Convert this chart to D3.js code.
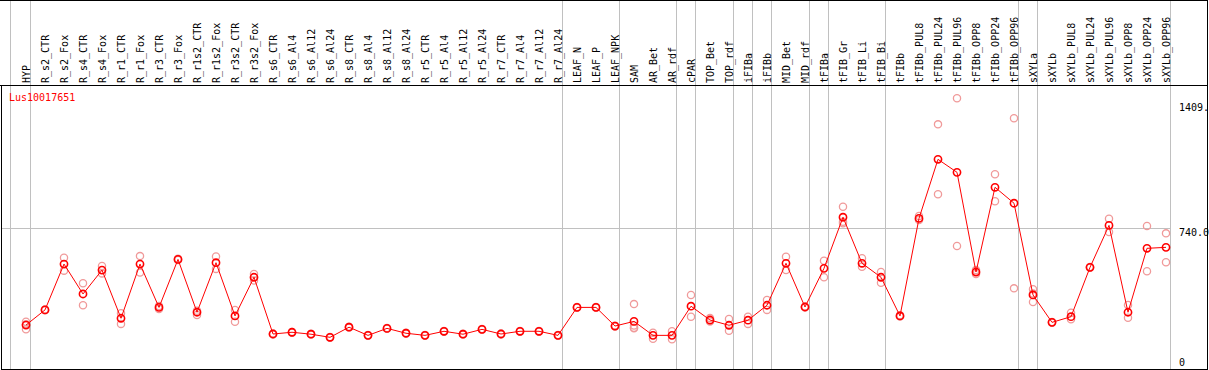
<!doctype html>
<html>
<head>
  <meta charset="utf-8">
  <title>Lus10017651 expression</title>
  <script src="https://cdnjs.cloudflare.com/ajax/libs/d3/7.8.5/d3.min.js"></script>
  <style>
    html, body {
      margin: 0;
      padding: 0;
      background: #fff;
    }
    svg {
      display: block;
      font-family: "DejaVu Sans Mono", monospace;
      font-size: 10px;
    }
  </style>
</head>
<body>
  <div id="my-svg-chart"></div>
  <script>
    // sample names, in the order of the columns
    const samples = [
      'HYP', 'R_s2_CTR', 'R_s2_Fox', 'R_s4_CTR', 'R_s4_Fox', 'R_r1_CTR', 'R_r1_Fox',
      'R_r3_CTR', 'R_r3_Fox', 'R_r1s2_CTR', 'R_r1s2_Fox', 'R_r3s2_CTR', 'R_r3s2_Fox',
      'R_s6_CTR', 'R_s6_Al4', 'R_s6_Al12', 'R_s6_Al24', 'R_s8_CTR', 'R_s8_Al4',
      'R_s8_Al12', 'R_s8_Al24', 'R_r5_CTR', 'R_r5_Al4', 'R_r5_Al12', 'R_r5_Al24',
      'R_r7_CTR', 'R_r7_Al4', 'R_r7_Al12', 'R_r7_Al24', 'LEAF_N', 'LEAF_P', 'LEAF_NPK',
      'SAM', 'AR_Bet', 'AR_rdf', 'cPAR', 'TOP_Bet', 'TOP_rdf', 'iFIBa', 'iFIBb',
      'MID_Bet', 'MID_rdf', 'tFIBa', 'tFIB_Gr', 'tFIB_Li', 'tFIB_Bi', 'tFIBb',
      'tFIBb_PUL8', 'tFIBb_PUL24', 'tFIBb_PUL96', 'tFIBb_OPP8', 'tFIBb_OPP24', 'tFIBb_OPP96',
      'sXYLa', 'sXYLb', 'sXYLb_PUL8', 'sXYLb_PUL24', 'sXYLb_PUL96',
      'sXYLb_OPP8', 'sXYLb_OPP24', 'sXYLb_OPP96'
    ];

    // mean expression per sample
    const means = [
      242, 320, 556, 402, 525, 277, 556, 333, 580, 308, 563, 289, 488,
      196, 205, 195, 179, 231, 189, 225, 200, 189, 210, 195, 220,
      196, 210, 210, 189, 333, 333, 237,
      261, 189, 189, 339, 268, 241, 267, 344,
      560, 335, 534, 797, 560, 488, 289,
      791, 1095, 1028, 515, 951, 869,
      397, 256, 285, 539, 755, 308, 637, 642
    ];

    // replicate values per sample
    const reps = [
      [259, 246, 220], [318, 322], [589, 522], [457, 344], [546, 508], [303, 248], [597, 512],
      [340, 325], [583, 577], [316, 294], [595, 531], [320, 259], [505, 471],
      [198, 194], [207, 203], [197, 193], [181, 177], [233, 229], [191, 187],
      [227, 223], [202, 198], [191, 187], [212, 208], [197, 193], [222, 218],
      [198, 194], [212, 208], [212, 208], [191, 187], [335, 331], [335, 331], [239, 235],
      [350, 240, 228, 226], [203, 172], [210, 169], [397, 285], [278, 261], [273, 213],
      [285, 248], [371, 320],
      [594, 525], [337, 333], [573, 488], [851, 766, 774], [586, 542], [515, 460], [292, 286],
      [803, 783], [1275, 915], [1409, 649], [525, 505], [1018, 879], [1306, 431],
      [426, 404, 361], [258, 254], [306, 272], [541, 537], [789, 721],
      [345, 280], [752, 519], [714, 565]
    ];

    // columns followed by a grey separator
    const groupEnds = [0, 28, 31, 34, 35, 37, 38, 39, 41, 42, 45, 52, 53, 60];

    const yTicks = [0, 740, 1409];
    const yTickLabels = ['0', '740.0', '1409.'];
    const gridValue = 740;
    const geneName = 'Lus10017651';

    const width = 1209, height = 370;
    const headerBottom = 85, plotBottom = 369, plotRight = 1207;

    const svg = d3.select('#my-svg-chart')
      .append('svg')
      .attr('width', width)
      .attr('height', height);

    const x = d3.scaleLinear()
      .domain([0, samples.length - 1])
      .range([26, 1166]);

    const y = d3.scaleLinear()
      .domain([0, 1409])
      .range([372.1, 98.3]);

    const sepX = i => Math.round(x(i) + 4.3) + 0.5;

    // grey separators, full height
    svg.append('line')
      .attr('x1', Math.round(x(0) - 16) + 0.5)
      .attr('x2', Math.round(x(0) - 16) + 0.5)
      .attr('y1', 0)
      .attr('y2', plotBottom)
      .style('stroke', '#c0c0c0');

    svg.selectAll('line.sep')
      .data(groupEnds)
      .join('line')
      .attr('class', 'sep')
      .attr('x1', d => sepX(d))
      .attr('x2', d => sepX(d))
      .attr('y1', 0)
      .attr('y2', plotBottom)
      .style('stroke', '#c0c0c0');

    // horizontal grid line
    svg.append('line')
      .attr('x1', 1)
      .attr('x2', sepX(samples.length - 1))
      .attr('y1', Math.round(y(gridValue)) + 0.5)
      .attr('y2', Math.round(y(gridValue)) + 0.5)
      .style('stroke', '#c0c0c0');

    // frame
    svg.append('line')
      .attr('x1', 0).attr('x2', plotRight + 1)
      .attr('y1', 0.5).attr('y2', 0.5)
      .style('stroke', 'black');
    svg.append('line')
      .attr('x1', 0).attr('x2', plotRight + 1)
      .attr('y1', headerBottom + 0.5).attr('y2', headerBottom + 0.5)
      .style('stroke', 'black');
    svg.append('line')
      .attr('x1', 1).attr('x2', plotRight + 1)
      .attr('y1', plotBottom + 0.5).attr('y2', plotBottom + 0.5)
      .style('stroke', 'black');
    svg.append('line')
      .attr('x1', 1.5).attr('x2', 1.5)
      .attr('y1', headerBottom).attr('y2', plotBottom + 1)
      .style('stroke', 'black');
    svg.append('line')
      .attr('x1', plotRight + 0.5).attr('x2', plotRight + 0.5)
      .attr('y1', 0).attr('y2', plotBottom + 1)
      .style('stroke', 'black');

    // rotated sample labels
    svg.selectAll('text.sample')
      .data(samples)
      .join('text')
      .attr('class', 'sample')
      .attr('transform', (d, i) => `translate(${x(i) + 4},${headerBottom - 2}) rotate(-90)`)
      .attr('fill', 'black')
      .text(d => d);

    // gene name
    svg.append('text')
      .attr('x', 9)
      .attr('y', 101)
      .attr('fill', 'red')
      .text(geneName);

    // y tick labels on the right
    svg.selectAll('text.ytick')
      .data(yTicks)
      .join('text')
      .attr('class', 'ytick')
      .attr('x', 1179)
      .attr('y', d => Math.max(110.5, Math.min(365.5, y(d) + 8)))
      .attr('fill', 'black')
      .text((d, i) => yTickLabels[i]);

    // replicate circles
    const repPoints = [];
    reps.forEach((r, i) => r.forEach(v => repPoints.push({ i: i, v: v })));

    svg.selectAll('circle.rep')
      .data(repPoints)
      .join('circle')
      .attr('class', 'rep')
      .attr('cx', d => x(d.i))
      .attr('cy', d => y(d.v))
      .attr('r', 3.6)
      .style('fill', 'none')
      .style('stroke', '#f09a9a')
      .style('stroke-width', 1.3);

    // mean line
    const line = d3.line()
      .x((d, i) => x(i))
      .y(d => y(d));

    svg.append('path')
      .datum(means)
      .attr('d', line)
      .style('fill', 'none')
      .style('stroke', 'red')
      .style('stroke-width', 1);

    // mean circles
    svg.selectAll('circle.mean')
      .data(means)
      .join('circle')
      .attr('class', 'mean')
      .attr('cx', (d, i) => x(i))
      .attr('cy', d => y(d))
      .attr('r', 3.6)
      .style('fill', 'none')
      .style('stroke', 'red')
      .style('stroke-width', 1.6);
  </script>
</body>
</html>
